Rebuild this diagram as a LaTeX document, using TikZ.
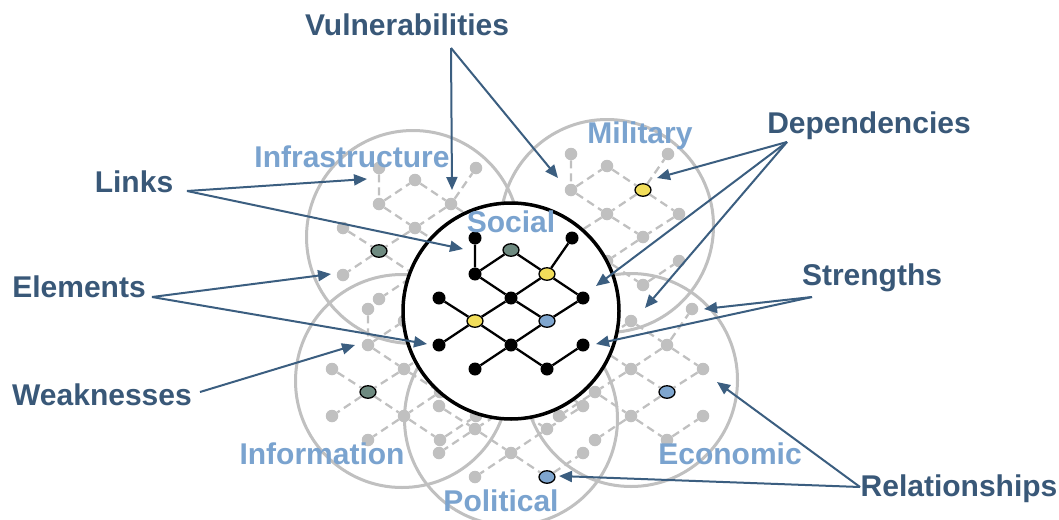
\documentclass[tikz,border=0pt]{standalone}
\usepackage{fontspec}
\setmainfont{Liberation Sans}
\usetikzlibrary{arrows.meta,shapes.geometric}
\definecolor{darkl}{RGB}{57,88,120}
\definecolor{arrowc}{RGB}{59,94,128}
\definecolor{lightl}{RGB}{122,163,207}
\definecolor{grayc}{RGB}{192,192,192}
\definecolor{yel}{RGB}{242,222,90}
\definecolor{grn}{RGB}{110,138,128}
\definecolor{blu}{RGB}{127,166,207}
\tikzset{
  dotc/.style={fill=black},
  latdot/.style={circle, inner sep=0pt, minimum size=13pt, draw=none, dotc},
  latedge/.style={black, line width=2.3pt},
  colnode/.style={ellipse, inner sep=0pt, minimum width=16pt, minimum height=12.5pt, draw=black, line width=1.3pt},
  yelnode/.style={colnode, fill=yel},
  grnnode/.style={colnode, fill=grn},
  blunode/.style={colnode, fill=blu},
  pa/.style={}, pb/.style={}, pn00/.style={}, pn1l/.style={}, pn1r/.style={},
  pn2l/.style={}, pn2m/.style={}, pn2r/.style={}, pn3l/.style={}, pn3r/.style={},
  pn4l/.style={}, pn4m/.style={}, pn4r/.style={}, pn5l/.style={}, pn5r/.style={},
  outer/.style={dotc/.style={fill=grayc, minimum size=12.5pt}, latedge/.style={grayc, line width=2.3pt, dash pattern=on 8pt off 5pt}},
  ring/.style={draw=grayc, line width=3pt},
  darklab/.style={text=darkl, font=\bfseries\fontsize{30}{36}\selectfont, inner sep=0pt, anchor=base},
  lightlab/.style={text=lightl, font=\bfseries\fontsize{30}{36}\selectfont, inner sep=0pt, anchor=base},
  pointer/.style={draw=arrowc, line width=2pt, -{Triangle[length=13pt,width=11pt]}},
}
\newcommand{\lattice}[4]{%
\begin{scope}[shift={(#2,#3)},#4]
\node[latdot,pa] (#1a) at (-36,-73) {};
\node[latdot,pb] (#1b) at (61,-73) {};
\node[latdot,pn00] (#1n00) at (0,-61) {};
\node[latdot,pn1l] (#1n1l) at (-36,-37) {};
\node[latdot,pn1r] (#1n1r) at (36,-37) {};
\node[latdot,pn2l] (#1n2l) at (-72,-13) {};
\node[latdot,pn2m] (#1n2m) at (0,-13) {};
\node[latdot,pn2r] (#1n2r) at (72,-13) {};
\node[latdot,pn3l] (#1n3l) at (-36,10) {};
\node[latdot,pn3r] (#1n3r) at (36,10) {};
\node[latdot,pn4l] (#1n4l) at (-72,34) {};
\node[latdot,pn4m] (#1n4m) at (0,34) {};
\node[latdot,pn4r] (#1n4r) at (72,34) {};
\node[latdot,pn5l] (#1n5l) at (-36,58) {};
\node[latdot,pn5r] (#1n5r) at (36,58) {};
\draw[latedge] (#1a)--(#1n1l) (#1n1l)--(#1n00) (#1n00)--(#1n1r) (#1n1r)--(#1b)
  (#1n1l)--(#1n2m) (#1n1r)--(#1n2m) (#1n1r)--(#1n2r)
  (#1n2l)--(#1n3l) (#1n2m)--(#1n3l) (#1n2m)--(#1n3r) (#1n2r)--(#1n3r)
  (#1n3l)--(#1n4l) (#1n3l)--(#1n4m) (#1n3r)--(#1n4m)
  (#1n4m)--(#1n5l) (#1n4m)--(#1n5r) (#1n5r)--(#1n4r);
\end{scope}}
\begin{document}
\begin{tikzpicture}[x=1pt,y=-1pt]
\useasboundingbox (0,0) rectangle (1059,519);
\fill[white] (0,0) rectangle (1059,519);
% outer lattices
\lattice{inf}{415}{241}{outer, pn3l/.style={grnnode}}
\lattice{mil}{607}{227}{outer, pn1r/.style={yelnode}}
\lattice{inm}{404}{382}{outer, pn3l/.style={grnnode}}
\lattice{eco}{631}{382}{outer, pn3r/.style={blunode}}
\lattice{pol}{511}{419}{outer, pn5r/.style={blunode}}
% outer rings
\node[ring, circle, minimum size=213pt, inner sep=0pt] (infc) at (413,237) {};
\node[ring, circle, minimum size=213pt, inner sep=0pt] (milc) at (607,226) {};
\node[ring, circle, minimum size=213pt, inner sep=0pt] (inmc) at (402,381) {};
\node[ring, circle, minimum size=213pt, inner sep=0pt] (ecoc) at (631,380) {};
\node[ring, circle, minimum size=213pt, inner sep=0pt] (polc) at (511,419) {};
% outer labels
\node[lightlab] (infl) at (352,167) {Infrastructure};
\node[lightlab] (mill) at (640,143) {Military};
\node[lightlab] (inml) at (322,464) {Information};
\node[lightlab] (ecol) at (730,464) {Economic};
\node[lightlab] (poll) at (501,511) {Political};
% central
\node[circle, draw=black, line width=3.5pt, fill=white, minimum size=216pt, inner sep=0pt] (soc) at (511,311) {};
\lattice{c}{511}{311}{pn00/.style={grnnode}, pn1r/.style={yelnode}, pn3l/.style={yelnode}, pn3r/.style={blunode}}
\node[lightlab] (socl) at (511,232) {Social};
% dark labels
\node[darklab] (vul) at (407,36) {Vulnerabilities};
\node[darklab] (dep) at (869,133) {Dependencies};
\node[darklab] (lnk) at (134,192) {Links};
\node[darklab] (str) at (872,285) {Strengths};
\node[darklab] (ele) at (79,297) {Elements};
\node[darklab] (wea) at (102,405) {Weaknesses};
\node[darklab] (rel) at (959,496) {Relationships};
% arrow anchors
\coordinate (vulS) at (451,48);
\coordinate (vulT1) at (452,190);
\coordinate (vulT2) at (558,178);
\coordinate (depS) at (787,142);
\coordinate (depT1) at (657,178);
\coordinate (depT2) at (596,286);
\coordinate (depT3) at (645,308);
\coordinate (lnkS) at (187,191);
\coordinate (lnkT1) at (367,179);
\coordinate (lnkT2) at (463,249);
\coordinate (eleS) at (152,297);
\coordinate (eleT1) at (331,274);
\coordinate (eleT2) at (427,344);
\coordinate (weaS) at (200,392);
\coordinate (weaT) at (355,345);
\coordinate (strS) at (812,297);
\coordinate (strT1) at (704,309);
\coordinate (strT2) at (596,344);
\coordinate (relS) at (860,487);
\coordinate (relT1) at (717,382);
\coordinate (relT2) at (559,476);
\draw[pointer] (vulS) -- (vulT1);
\draw[pointer] (vulS) -- (vulT2);
\draw[pointer] (depS) -- (depT1);
\draw[pointer] (depS) -- (depT2);
\draw[pointer] (depS) -- (depT3);
\draw[pointer] (lnkS) -- (lnkT1);
\draw[pointer] (lnkS) -- (lnkT2);
\draw[pointer] (eleS) -- (eleT1);
\draw[pointer] (eleS) -- (eleT2);
\draw[pointer] (weaS) -- (weaT);
\draw[pointer] (strS) -- (strT1);
\draw[pointer] (strS) -- (strT2);
\draw[pointer] (relS) -- (relT1);
\draw[pointer] (relS) -- (relT2);
\end{tikzpicture}
\end{document}
